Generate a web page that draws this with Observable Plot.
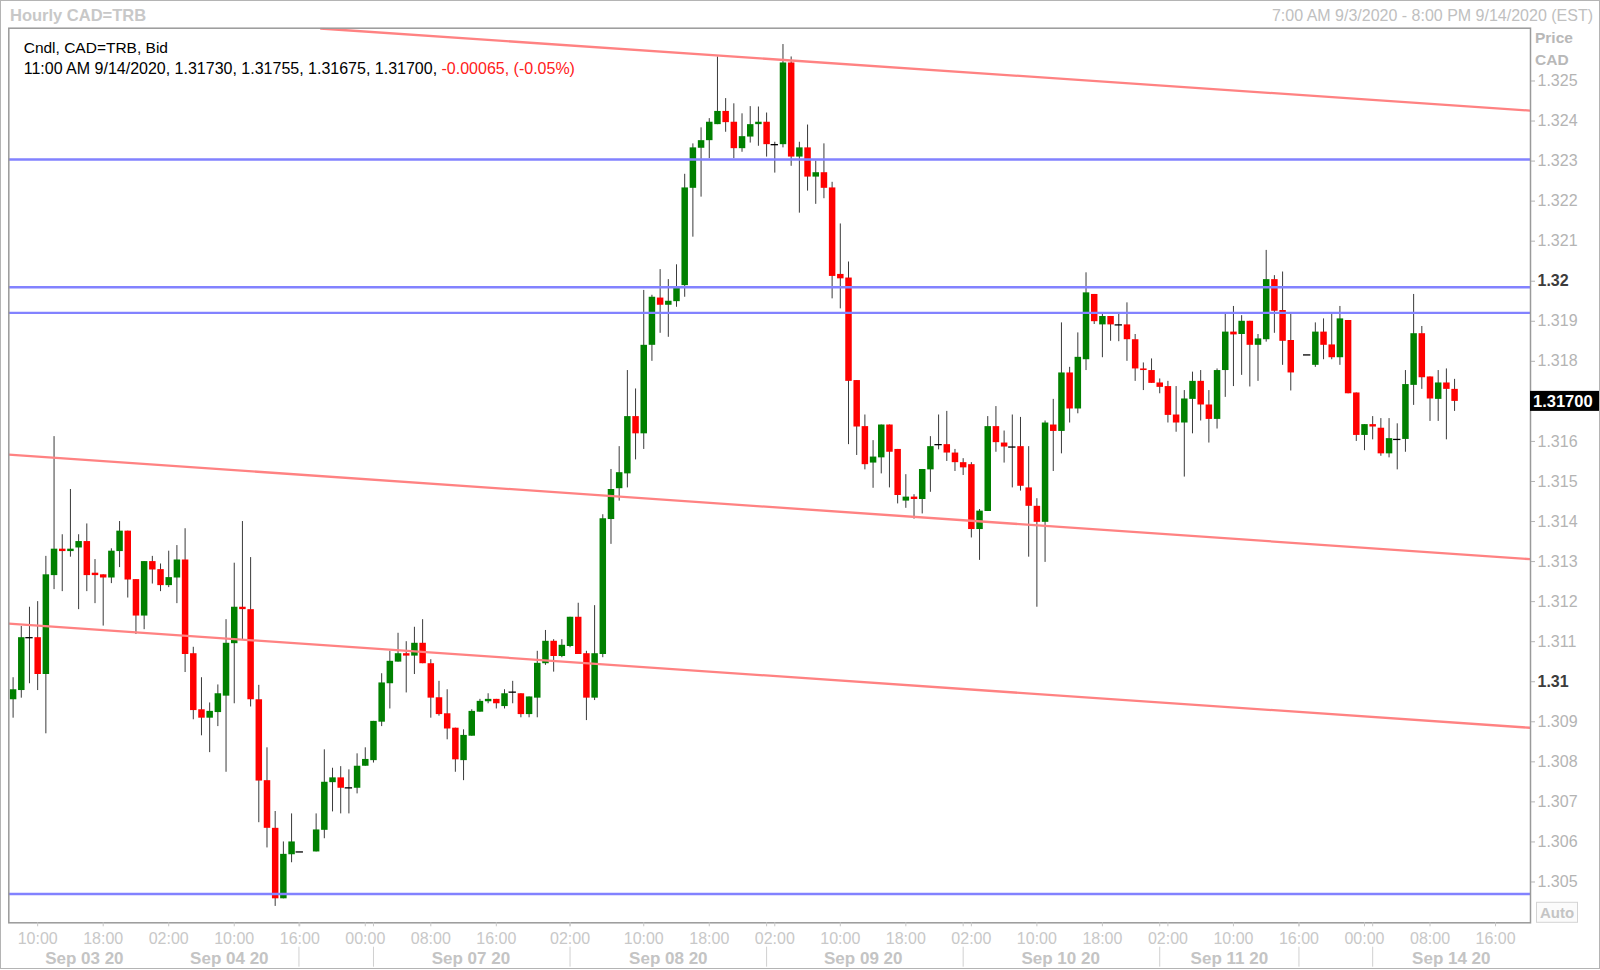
<!DOCTYPE html>
<html><head><meta charset="utf-8">
<script src="https://cdn.jsdelivr.net/npm/d3@7"></script>
<script src="https://cdn.jsdelivr.net/npm/@observablehq/plot@0.6"></script>
<style>html,body{margin:0;padding:0;background:#fff;}</style>
</head><body><div id="chart"></div>
<script>
// ---- Hourly CAD=TRB candles (index 0 = 7:00 AM 9/3/2020); null = empty slot ----
const opens = [1.30955,1.30978,1.31110,1.31110,1.31018,1.31265,1.31331,1.31325,1.31334,1.31350,
1.31271,1.31267,1.31259,1.31325,1.31376,1.31255,1.31164,1.31300,1.31280,1.31240,
1.31259,1.31304,1.31070,1.30930,1.30909,1.30923,1.30964,1.31095,1.31186,1.31180,
1.30955,1.30753,1.30634,1.30458,1.30568,1.30575,null,1.30575,1.30629,1.30748,
1.30760,1.30735,1.30734,1.30789,1.30803,1.30899,1.30995,1.31049,1.31070,1.31064,
1.31096,1.31045,1.30960,1.30920,1.30884,1.30803,1.30864,1.30924,1.30950,1.30956,
1.30938,1.30974,1.30970,1.30918,1.30959,1.31045,1.31101,1.31063,1.31088,1.31161,
1.31070,1.30959,1.31068,1.31405,1.31482,1.31519,1.31662,1.31619,1.31840,1.31958,
1.31940,1.31949,1.31989,1.32232,1.32332,1.32351,1.32391,1.32424,1.32397,1.32331,
1.32360,1.32391,1.32397,1.32341,1.32341,1.32545,1.32310,1.32333,1.32260,1.32271,
1.32233,1.32017,1.32008,1.31752,1.31637,1.31546,1.31559,1.31641,1.31580,1.31451,
1.31461,1.31455,1.31529,1.31592,1.31592,1.31571,1.31547,1.31542,1.31380,1.31425,
1.31637,1.31596,1.31586,1.31587,1.31484,1.31438,1.31398,1.31641,1.31625,1.31771,
1.31681,1.31804,1.31967,1.31891,1.31912,1.31891,1.31891,1.31854,1.31781,1.31777,
1.31746,1.31737,1.31666,1.31646,1.31705,1.31750,1.31691,1.31655,1.31777,1.31873,
1.31867,1.31900,1.31840,1.31854,1.32004,1.31927,1.31852,null,1.31816,1.31790,
1.31873,1.31841,1.31809,1.31902,1.31721,1.31615,1.31642,1.31633,1.31569,1.31605,
1.31605,1.31740,1.31869,1.31761,1.31705,1.31746,1.31730];
const highs = [1.31010,1.31138,1.31186,1.31200,1.31313,1.31612,1.31367,1.31480,1.31367,1.31394,
1.31305,1.31267,1.31332,1.31400,1.31376,1.31255,1.31300,1.31313,1.31294,1.31326,
1.31340,1.31382,1.31086,1.31010,1.30947,1.30992,1.31155,1.31296,1.31400,1.31310,
1.30991,1.30835,1.30676,1.30600,1.30670,1.30575,null,1.30670,1.30830,1.30784,
1.30788,1.30780,1.30820,1.30835,1.30901,1.31020,1.31076,1.31121,1.31100,1.31136,
1.31155,1.31055,1.31001,1.30980,1.30884,1.30880,1.30930,1.30956,1.30970,1.30956,
1.30980,1.31001,1.30970,1.30962,1.31076,1.31128,1.31105,1.31105,1.31161,1.31196,
1.31076,1.31190,1.31417,1.31530,1.31587,1.31777,1.31731,1.31977,1.31965,1.32029,
1.32004,1.32041,1.32267,1.32343,1.32383,1.32406,1.32560,1.32456,1.32443,1.32418,
1.32436,1.32435,1.32420,1.32347,1.32591,1.32560,1.32347,1.32390,1.32300,1.32343,
1.32247,1.32143,1.32048,1.31752,1.31666,1.31602,1.31641,1.31641,1.31580,1.31517,
1.31467,1.31530,1.31612,1.31666,1.31675,1.31580,1.31557,1.31547,1.31430,1.31662,
1.31687,1.31626,1.31666,1.31660,1.31587,1.31457,1.31651,1.31705,1.31896,1.31785,
1.31871,1.32021,1.31967,1.31917,1.31912,1.31917,1.31946,1.31867,1.31796,1.31806,
1.31756,1.31750,1.31737,1.31727,1.31773,1.31777,1.31727,1.31781,1.31917,1.31937,
1.31914,1.31900,1.31867,1.32077,1.32014,1.32023,1.31917,null,1.31816,1.31896,
1.31906,1.31917,1.31937,1.31902,1.31721,1.31642,1.31662,1.31657,1.31657,1.31644,
1.31777,1.31967,1.31887,1.31761,1.31777,1.31781,1.31755];
const lows = [1.30909,1.30959,1.30995,1.30978,1.30870,1.31230,1.31225,1.31311,1.31180,1.31225,
1.31195,1.31139,1.31245,1.31285,1.31209,1.31118,1.31130,1.31244,1.31225,1.31235,
1.31195,1.31023,1.30905,1.30865,1.30823,1.30888,1.30774,1.30945,1.31103,1.30937,
1.30648,1.30585,1.30439,1.30458,1.30548,1.30575,null,1.30575,1.30608,1.30675,
1.30670,1.30670,1.30720,1.30789,1.30797,1.30888,1.30932,1.31049,1.30972,1.31018,
1.31045,1.30909,1.30914,1.30855,1.30774,1.30753,1.30864,1.30924,1.30945,1.30932,
1.30932,1.30945,1.30910,1.30910,1.30910,1.31041,1.31024,1.31060,1.31085,1.31068,
1.30903,1.30953,1.31060,1.31343,1.31451,1.31484,1.31554,1.31580,1.31800,1.31870,
1.31860,1.31935,1.31960,1.32110,1.32210,1.32306,1.32391,1.32372,1.32306,1.32322,
1.32345,1.32337,1.32310,1.32270,1.32333,1.32287,1.32170,1.32225,1.32192,1.32206,
1.31956,1.31931,1.31592,1.31565,1.31529,1.31483,1.31519,1.31484,1.31444,1.31433,
1.31406,1.31419,1.31473,1.31579,1.31550,1.31525,1.31515,1.31359,1.31303,1.31425,
1.31573,1.31546,1.31484,1.31476,1.31311,1.31186,1.31298,1.31525,1.31569,1.31646,
1.31669,1.31777,1.31892,1.31809,1.31850,1.31849,1.31800,1.31750,1.31727,1.31745,
1.31719,1.31646,1.31623,1.31511,1.31619,1.31651,1.31596,1.31631,1.31710,1.31737,
1.31765,1.31736,1.31750,1.31848,1.31870,1.31790,1.31726,null,1.31816,1.31785,
1.31804,1.31804,1.31790,1.31719,1.31600,1.31577,1.31604,1.31563,1.31559,1.31529,
1.31573,1.31690,1.31730,1.31650,1.31650,1.31604,1.31675];
const closes = [1.30980,1.31110,1.31110,1.31018,1.31267,1.31331,1.31325,1.31331,1.31350,1.31265,
1.31265,1.31259,1.31326,1.31376,1.31254,1.31164,1.31300,1.31279,1.31240,1.31260,
1.31304,1.31068,1.30928,1.30909,1.30926,1.30970,1.31096,1.31186,1.31180,1.30955,
1.30752,1.30634,1.30458,1.30569,1.30600,1.30575,null,1.30630,1.30749,1.30760,
1.30734,1.30735,1.30789,1.30806,1.30901,1.30997,1.31051,1.31070,1.31064,1.31096,
1.31045,1.30959,1.30918,1.30882,1.30805,1.30866,1.30926,1.30951,1.30956,1.30945,
1.30970,1.30974,1.30918,1.30962,1.31046,1.31101,1.31063,1.31091,1.31161,1.31068,
1.30959,1.31070,1.31407,1.31480,1.31522,1.31662,1.31619,1.31840,1.31960,1.31940,
1.31950,1.31983,1.32233,1.32333,1.32351,1.32397,1.32424,1.32396,1.32331,1.32361,
1.32391,1.32397,1.32341,1.32341,1.32545,1.32310,1.32333,1.32260,1.32271,1.32232,
1.32012,1.32006,1.31750,1.31636,1.31542,1.31561,1.31641,1.31573,1.31465,1.31461,
1.31455,1.31530,1.31587,1.31592,1.31571,1.31547,1.31534,1.31380,1.31426,1.31637,
1.31597,1.31586,1.31586,1.31488,1.31438,1.31398,1.31646,1.31625,1.31771,1.31681,
1.31810,1.31971,1.31899,1.31912,1.31891,1.31891,1.31854,1.31781,1.31777,1.31745,
1.31735,1.31665,1.31646,1.31706,1.31750,1.31691,1.31655,1.31777,1.31873,1.31866,
1.31900,1.31840,1.31856,1.32004,1.31925,1.31850,1.31771,null,1.31816,1.31873,
1.31840,1.31809,1.31906,1.31719,1.31615,1.31642,1.31636,1.31569,1.31607,1.31605,
1.31742,1.31869,1.31759,1.31706,1.31746,1.31730,1.31700];

// ---- horizontal support / resistance levels ----
const levels = [1.32304, 1.31985, 1.31921, 1.30470];
// ---- trend channel lines (candle index, price) ----
const trendX1 = [37.5, -0.525, -0.525];
const trendY1 = [1.32631, 1.31567, 1.31145];
const trendX2 = [185.27, 185.27, 185.27];
const trendY2 = [1.32426, 1.31306, 1.30885];

// ---- axis ticks ----
const xTickIdx = [3,11,19,27,35,43,51,59,68,77,85,93,101,109,117,125,133,141,149,157,165,173,181];
const xTickLabels = ["10:00","18:00","02:00","10:00","16:00","00:00","08:00","16:00","02:00","10:00","18:00","02:00",
  "10:00","18:00","02:00","10:00","18:00","02:00","10:00","16:00","00:00","08:00","16:00"];
const dayDividerIdx = [34.9, 44, 68, 92, 116, 140, 157, 166];
const dayLabelIdx = [8.7, 26.4, 55.9, 80, 103.8, 127.9, 148.5, 175.6];
const dayLabels = ["Sep 03 20","Sep 04 20","Sep 07 20","Sep 08 20","Sep 09 20","Sep 10 20","Sep 11 20","Sep 14 20"];
const yTicks = [1.305,1.306,1.307,1.308,1.309,1.311,1.312,1.313,1.314,1.315,1.316,1.318,1.319,1.321,1.322,1.323,1.324,1.325];
const yBoldTicks = [1.31, 1.32];

// ---- texts ----
const titleText = "Hourly CAD=TRB";
const rangeText = "7:00 AM 9/3/2020 - 8:00 PM 9/14/2020 (EST)";
const legendLine1 = "Cndl, CAD=TRB, Bid";
const legendTime = "11:00 AM 9/14/2020";
const legendChange = "-0.00065, (-0.05%)";

const FONT = "'Liberation Sans', Arial, sans-serif";
const n = opens.length;
const candles = opens.map((o, i) => ({i, o, h: highs[i], l: lows[i], c: closes[i]})).filter(d => d.o != null);
const upC = candles.filter(d => d.c > d.o);
const downC = candles.filter(d => d.c < d.o);
const dojiC = candles.filter(d => d.c === d.o);
const trends = trendX1.map((x, k) => ({x1: x, y1: trendY1[k], x2: trendX2[k], y2: trendY2[k]}));

function chrome(index, scales, values, dims) {
  const {width, height, marginLeft, marginRight, marginTop, marginBottom} = dims;
  const right = width - marginRight, bottom = height - marginBottom;
  const g = d3.create("svg:g").attr("font-family", FONT).attr("text-anchor", "start");
  g.append("rect").attr("x", 0.5).attr("y", 0.5).attr("width", width - 1).attr("height", height - 2)
    .attr("fill", "none").attr("stroke", "#b4b4b4");
  g.append("text").attr("x", 10).attr("y", 21).attr("font-size", 16.5).attr("font-weight", "bold")
    .attr("fill", "#c8c8c8").text(titleText);
  g.append("text").attr("x", width - 7).attr("y", 20.5).attr("font-size", 16).attr("text-anchor", "end")
    .attr("fill", "#c0c0c0").text(rangeText);
  g.append("text").attr("x", 23.7).attr("y", 52.5).attr("font-size", 15.5).attr("fill", "#000").text(legendLine1);
  const last = n - 1;
  const t2 = g.append("text").attr("x", 23.7).attr("y", 74).attr("font-size", 16).attr("fill", "#000");
  t2.append("tspan").text(`${legendTime}, ${opens[last].toFixed(5)}, ${highs[last].toFixed(5)}, ${lows[last].toFixed(5)}, ${closes[last].toFixed(5)}, `);
  t2.append("tspan").attr("fill", "#ff2020").text(legendChange);
  g.append("text").attr("x", right + 5).attr("y", 43).attr("font-size", 15.5).attr("font-weight", "bold")
    .attr("fill", "#b8b8b8").text("Price");
  g.append("text").attr("x", right + 5).attr("y", 64.5).attr("font-size", 15.5).attr("font-weight", "bold")
    .attr("fill", "#b8b8b8").text("CAD");
  // current price tag
  const py = scales.y(closes[last]);
  g.append("rect").attr("x", right).attr("y", py - 10).attr("width", width - right - 1).attr("height", 20).attr("fill", "#000");
  g.append("text").attr("x", right + 3).attr("y", py + 6).attr("font-size", 16.5).attr("font-weight", "bold")
    .attr("fill", "#fff").text(closes[last].toFixed(5));
  // Auto button
  g.append("rect").attr("x", right + 6.5).attr("y", bottom - 20).attr("width", 41).attr("height", 20)
    .attr("fill", "#fbfbfb").attr("stroke", "#d4d4d4");
  g.append("text").attr("x", right + 27).attr("y", bottom - 4.5).attr("font-size", 15).attr("font-weight", "bold")
    .attr("text-anchor", "middle").attr("fill", "#c4c4c4").text("Auto");
  return g.node();
}

const chart = Plot.plot({
  width: 1600, height: 970,
  marginLeft: 8.3, marginRight: 70, marginTop: 27.7, marginBottom: 47.7,
  style: {fontFamily: FONT, fontSize: "15px", background: "#fff", overflow: "visible"},
  x: {type: "linear", domain: [-0.525, 185.27]},
  y: {type: "linear", domain: [1.303981, 1.326318]},
  marks: [
    Plot.ruleX(candles, {x: "i", y1: "l", y2: "h", stroke: "#3a3a3a", strokeWidth: 1}),
    Plot.ruleX(upC, {x: "i", y1: "o", y2: "c", stroke: "#008000", strokeWidth: 6.5}),
    Plot.ruleX(downC, {x: "i", y1: "o", y2: "c", stroke: "#ff0000", strokeWidth: 6.5}),
    Plot.ruleY(dojiC, {y: "c", x1: d => d.i - 0.45, x2: d => d.i + 0.45, stroke: "#000", strokeWidth: 1.3}),
    Plot.ruleY(levels, {stroke: "#8282ff", strokeWidth: 2.3}),
    Plot.link(trends, {x1: "x1", y1: "y1", x2: "x2", y2: "y2", stroke: "#ff8282", strokeWidth: 2.3, clip: true}),
    Plot.frame({stroke: "#9a9a9a", strokeWidth: 1.5}),
    Plot.axisX({ticks: xTickIdx, tickFormat: v => xTickLabels[xTickIdx.indexOf(v)], tickSize: 4, tickPadding: 5.6,
      color: "#c8c8c8", fontSize: 16, label: null}),
    Plot.axisX({ticks: dayDividerIdx, tickFormat: () => "", tickSize: 4, color: "#c8c8c8", label: null}),
    Plot.axisX({ticks: dayDividerIdx, tickFormat: () => "", tickSize: 20, dy: 24.4, color: "#d0d0d0", label: null}),
    Plot.axisX({ticks: dayLabelIdx, tickFormat: v => dayLabels[dayLabelIdx.indexOf(v)], tickSize: 0, tickPadding: 28.8,
      fill: "#c4c4c4", fontSize: 17, fontWeight: "bold", label: null}),
    Plot.axisY({anchor: "right", ticks: yTicks, tickFormat: d => d.toFixed(3), tickSize: 4, tickPadding: 3,
      color: "#b4b4b4", fontSize: 16, label: null}),
    Plot.axisY({anchor: "right", ticks: yBoldTicks, tickFormat: d => d.toFixed(2), tickSize: 4, tickPadding: 3,
      stroke: "#b4b4b4", fill: "#3c3c3c", fontSize: 16, fontWeight: "bold", label: null}),
    chrome
  ]
});
document.getElementById("chart").appendChild(chart);
</script>
</body></html>
